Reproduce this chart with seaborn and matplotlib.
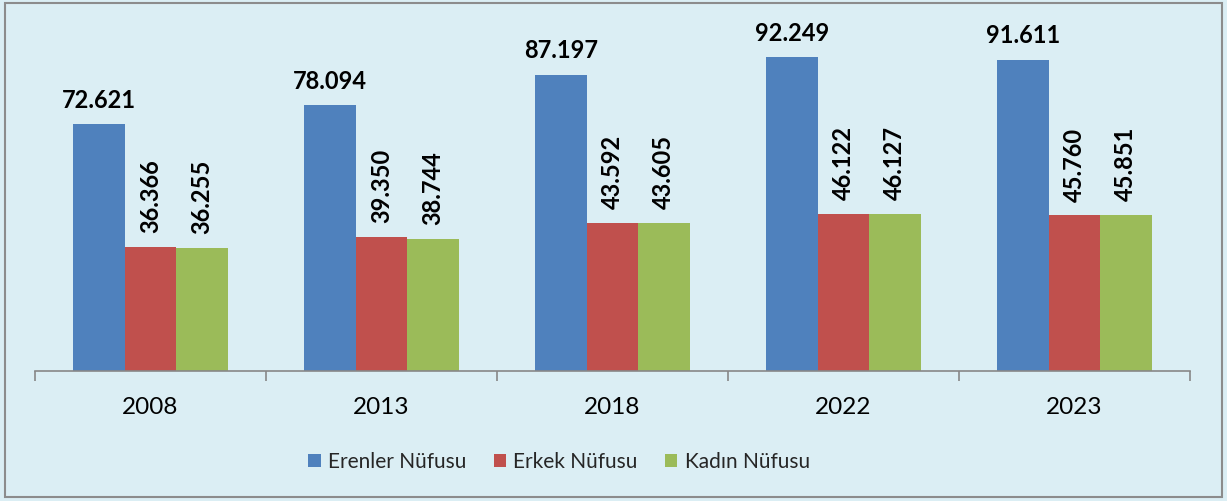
import matplotlib
matplotlib.use("Agg")
import matplotlib.pyplot as plt
import seaborn as sns
import pandas as pd
from matplotlib.patches import Rectangle, Patch

years = ["2008", "2013", "2018", "2022", "2023"]
series = ["Erenler Nüfusu", "Erkek Nüfusu", "Kadın Nüfusu"]
erenler = [72.621, 78.094, 87.197, 92.249, 91.611]
erkek = [36.366, 39.350, 43.592, 46.122, 45.760]
kadin = [36.255, 38.744, 43.605, 46.127, 45.851]
labels = {
    "Erenler Nüfusu": ["72.621", "78.094", "87.197", "92.249", "91.611"],
    "Erkek Nüfusu": ["36.366", "39.350", "43.592", "46.122", "45.760"],
    "Kadın Nüfusu": ["36.255", "38.744", "43.605", "46.127", "45.851"],
}
colors = ["#4F81BD", "#C0504D", "#9BBB59"]

rows = []
for s, vals in zip(series, [erenler, erkek, kadin]):
    for y, v in zip(years, vals):
        rows.append({"Yıl": y, "Seri": s, "Değer": v})
df = pd.DataFrame(rows)

sns.set_style("white")
plt.rcParams["font.family"] = ["Lato", "DejaVu Sans"]

bg = "#DBEEF4"
fig = plt.figure(figsize=(12.27, 5.01), dpi=100, facecolor=bg)
ax = fig.add_axes([35/1227, 130/501, 1155/1227, 340/501])
ax.set_facecolor(bg)

sns.barplot(data=df, x="Yıl", y="Değer", hue="Seri", order=years, hue_order=series,
            palette=colors, width=0.667, gap=0, saturation=1, ax=ax, legend=False,
            linewidth=0)

for cont, s in zip(ax.containers, series):
    if s == "Erenler Nüfusu":
        ax.bar_label(cont, labels=labels[s], padding=9, fontsize=17, fontweight="bold",
                     color="black", clip_on=False)
    else:
        ax.bar_label(cont, labels=labels[s], padding=10, fontsize=17, fontweight="bold",
                     color="black", rotation=90, clip_on=False)

ax.set_xlim(-0.5, 4.5)
ax.set_ylim(0, 100)
ax.set_xlabel("")
ax.set_ylabel("")
ax.set_yticks([])
for sp in ["top", "right", "left"]:
    ax.spines[sp].set_visible(False)
ax.spines["bottom"].set_color("#878787")
ax.spines["bottom"].set_linewidth(1.2)
ax.set_xticks(range(5))
ax.set_xticklabels(years, fontsize=17.5, color="black")
ax.tick_params(axis="x", which="major", length=0, pad=19)
ax.set_xticks([i - 0.5 for i in range(6)], minor=True)
ax.tick_params(axis="x", which="minor", bottom=True, length=7, width=1.2,
               color="#878787", direction="out")

handles = [Patch(facecolor=c, edgecolor="none", label=s) for c, s in zip(colors, series)]
fig.legend(handles=handles, loc="center", bbox_to_anchor=(559/1227, (501-462)/501), ncol=3,
           frameon=False, fontsize=15, handlelength=0.6, handleheight=0.6,
           handletextpad=0.35, columnspacing=1.3)

fig.patches.append(Rectangle((5/1227, 4/501), 1217/1227, 494/501, transform=fig.transFigure,
                             fill=False, edgecolor="#8c8c8c", linewidth=1.5))

fig.savefig("out.png", dpi=100, facecolor=bg)
